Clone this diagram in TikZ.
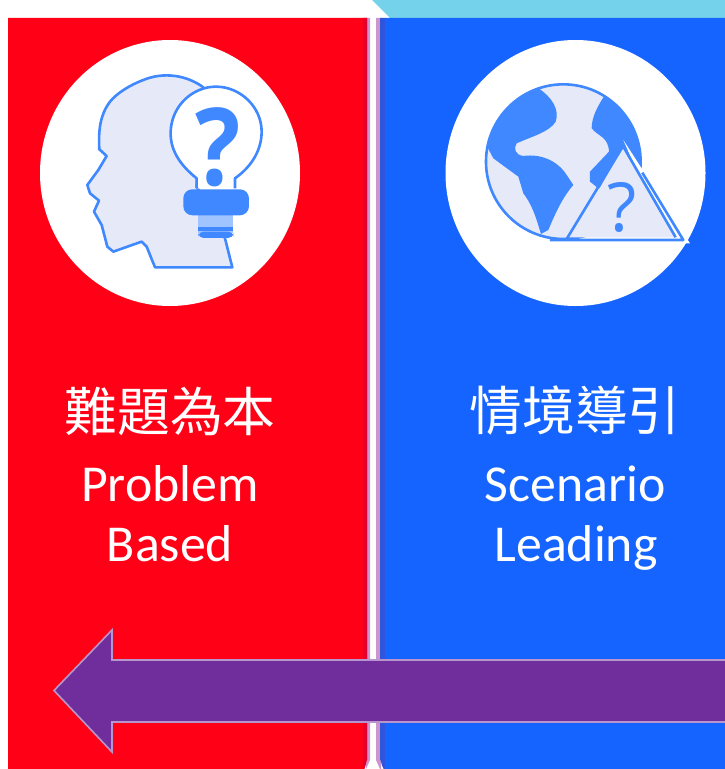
\documentclass[tikz,border=0pt]{standalone}
\usepackage{fontspec}
\usetikzlibrary{shapes.geometric}
\setmainfont{Carlito}
\newfontfamily\cjk{Noto Sans CJK TC}
\newfontfamily\qfont{Open Sans}
\definecolor{panelred}{HTML}{FF0017}
\definecolor{reddark}{HTML}{E4002E}
\definecolor{panelblue}{HTML}{1564FF}
\definecolor{bluedark}{HTML}{2F55DC}
\definecolor{topcyan}{HTML}{74D3EA}
\definecolor{iconblue}{HTML}{3F88FF}
\definecolor{iconpale}{HTML}{E6E9F8}
\definecolor{arrowpurple}{HTML}{702E9C}
\definecolor{edgepurple}{HTML}{CC96CC}
\tikzset{
  x=1bp,y=-1bp,
  badge/.style={ellipse,fill=white,minimum width=260bp,minimum height=266bp,inner sep=0pt},
  cntitle/.style={text=white,font=\cjk\fontsize{53}{53}\selectfont,inner sep=0pt},
  entitle/.style={text=white,font=\fontsize{52}{52}\selectfont,inner sep=0pt,anchor=base},
  iconline/.style={draw=iconblue,line width=2.6bp,line join=round},
  qmark/.style={text=iconblue,inner sep=0pt,anchor=base}
}
\begin{document}
\begin{tikzpicture}
\useasboundingbox (0,0) rectangle (725,769);
\fill[white] (0,0) rectangle (725,769);
\fill[topcyan] (372,0) -- (725,0) -- (725,18) -- (390,18) -- cycle;
% panels
\fill[edgepurple] (366,18) -- (370,18) -- (370,760) -- (366,769) -- cycle;
\fill[edgepurple] (376,18) -- (381,18) -- (381,769) -- (380,769) -- (376,760) -- cycle;
\fill[panelred] (8,18) -- (367,18) -- (367,760) to[out=90,in=-60] (363,769) -- (8,769) -- cycle;
\fill[reddark] (363,18) -- (367,18) -- (367,760) to[out=90,in=-60] (363,769) -- cycle;
\fill[bluedark] (380,18) -- (725,18) -- (725,769) -- (385,769) to[out=-120,in=90] (380,760) -- cycle;
\fill[panelblue] (385,18) -- (725,18) -- (725,769) -- (385,769) -- cycle;
% badges
\node[badge] (leftbadge) at (170,173) {};
\node[badge] (rightbadge) at (575.5,173) {};
% head icon
\begin{scope}[shift={(30,30)},x=0.3333bp,y=-0.3333bp]
\draw[iconline,fill=iconpale] (520,172) .. controls (470,135) and (400,125) .. (340,150)
  .. controls (300,165) and (260,190) .. (240,215)
  .. controls (210,255) and (205,300) .. (208,358) -- (230,378) -- (205,420) -- (172,465) -- (180,490)
  -- (207,512) -- (192,545) -- (215,585) -- (232,650) -- (250,665) -- (335,635) -- (350,650) -- (375,712)
  -- (607,712) -- (585,625) -- (500,470) -- cycle;
\draw[iconline,fill=white] (500,475) -- (500,445) .. controls (450,405) and (420,360) .. (422,305)
  .. controls (425,225) and (490,170) .. (558,170) .. controls (630,170) and (695,230) .. (695,305)
  .. controls (695,360) and (665,410) .. (615,445) -- (615,475);
\fill[iconblue!50] (505,550) rectangle (610,610);
\fill[iconblue] (505,590) rectangle (610,603);
\fill[iconblue,rounded corners=5bp] (505,605) rectangle (610,624);
\fill[iconblue,rounded corners=9bp] (460,478) rectangle (657,556);
\node[qmark,font=\qfont\bfseries\fontsize{108}{108}\selectfont,xscale=.88] (qleft) at (563,467) {?};
\end{scope}
% globe icon
\begin{scope}[shift={(435,30)},x=0.3333bp,y=-0.3333bp]
\fill[iconpale] (385,395) circle[radius=232];
\begin{scope}
\clip (385,395) circle[radius=232];
\fill[iconblue] (310,175) .. controls (350,200) and (375,240) .. (362,275) .. controls (345,305) and (290,320) .. (245,340)
  .. controls (235,355) and (240,375) .. (265,378) .. controls (320,370) and (370,395) .. (395,435)
  -- (415,465) .. controls (385,500) and (365,540) .. (340,600) -- (318,612) .. controls (305,570) and (295,530) .. (265,490)
  -- (250,440) -- (175,385) -- (130,300) -- (200,150) -- cycle;
\fill[iconblue] (510,195) .. controls (490,225) and (470,260) .. (470,295) .. controls (490,320) and (520,320) .. (522,365)
  -- (465,425) -- (465,455) -- (490,475) -- (640,480) -- (640,250) -- (560,150) -- cycle;
\end{scope}
\draw[iconline] (385,395) circle[radius=232];
\fill[white] (565,330) -- (765,640) -- (700,640) -- cycle;
\fill[iconpale] (565,350) -- (722,622) -- (410,622) -- cycle;
\draw[iconline] (565,347) -- (395,627) (622,428) -- (745,630) -- (345,630);
\draw[iconline] (565,350) -- (722,622);
\node[qmark,font=\qfont\fontsize{68}{68}\selectfont] (qright) at (562,606) {?};
\end{scope}
% labels
\node[cntitle] (cnleft) at (170,411) {難題為本};
\node[entitle] (enleft1) at (170,501) {Problem};
\node[entitle] (enleft2) at (170,561) {Based};
\node[cntitle] (cnright) at (575,411) {情境導引};
\node[entitle] (enright1) at (575,501) {Scenario};
\node[entitle] (enright2) at (576,561) {Leading};
% arrow
\draw[fill=arrowpurple,draw=white!50!arrowpurple,line width=1.6bp,line join=miter]
  (54,690.5) -- (112,630) -- (112,660) -- (727,660) -- (727,722) -- (112,722) -- (112,752) -- cycle;
\end{tikzpicture}
\end{document}
